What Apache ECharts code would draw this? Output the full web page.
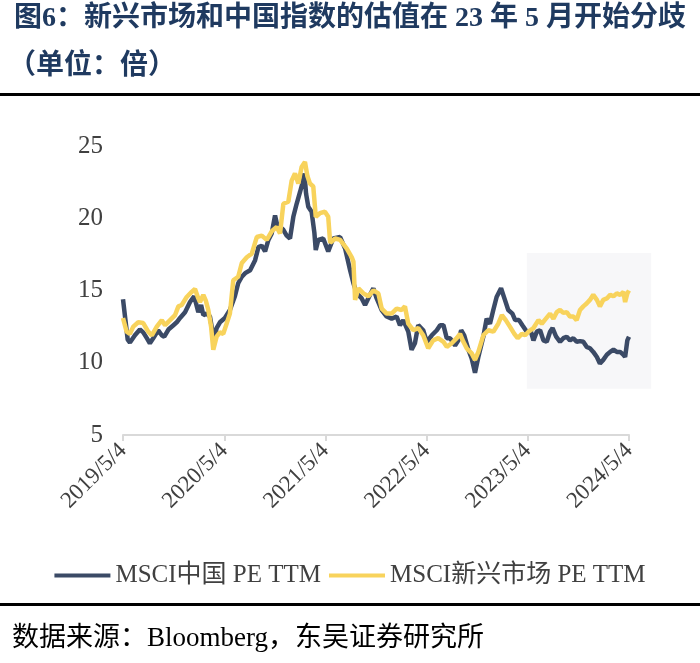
<!DOCTYPE html>
<html>
<head>
<meta charset="utf-8">
<script src="https://cdn.jsdelivr.net/npm/echarts@6/dist/echarts.min.js"></script>
<style>
html,body{margin:0;padding:0;background:#fff;}
#chart{width:700px;height:663px;}
</style>
</head>
<body>
<div id="chart"></div>
<script>
var titleLine1 = '图6：新兴市场和中国指数的估值在 23 年 5 月开始分歧';
var titleLine2 = '（单位：倍）';
var sourceText = '数据来源：Bloomberg，东吴证券研究所';
var seriesNames = ['MSCI中国 PE TTM', 'MSCI新兴市场 PE TTM'];
var xTickLabels = ['2019/5/4', '2020/5/4', '2021/5/4', '2022/5/4', '2023/5/4', '2024/5/4'];
var yTicks = [5, 10, 15, 20, 25];
var highlightRange = { from: '2023-05-01', to: '2024-07-23', low: 8.2, high: 17.6 };

var chinaPE = [
['2019-05-04',14.4],['2019-05-21',11.6],['2019-05-29',11.4],['2019-06-16',11.9],['2019-07-04',12.3],
['2019-07-16',12.1],['2019-07-29',11.7],['2019-08-09',11.35],['2019-08-21',11.7],['2019-09-08',12.25],
['2019-09-21',11.9],['2019-09-30',11.8],['2019-10-15',12.3],['2019-11-02',12.6],['2019-11-14',12.8],
['2019-11-26',13.1],['2019-12-14',13.5],['2020-01-01',14.2],['2020-01-16',14.6],['2020-01-31',13.5],
['2020-02-10',14.0],['2020-02-18',13.3],['2020-03-01',13.4],['2020-03-13',13.2],['2020-03-21',12.3],
['2020-03-28',11.6],['2020-04-06',12.4],['2020-04-18',12.8],['2020-05-06',13.1],['2020-05-24',13.65],
['2020-06-11',14.6],['2020-06-23',15.5],['2020-07-06',15.95],['2020-07-18',16.2],['2020-08-05',16.4],
['2020-08-23',17.1],['2020-09-04',18.0],['2020-09-16',18.1],['2020-09-28',17.7],['2020-10-10',18.5],
['2020-10-22',18.95],['2020-11-03',20.2],['2020-11-11',19.5],['2020-11-21',19.4],['2020-12-03',19.2],
['2020-12-15',18.8],['2020-12-27',18.6],['2021-01-08',20.1],['2021-01-20',21.0],['2021-02-01',21.8],
['2021-02-11',22.5],['2021-02-17',23.1],['2021-02-23',21.7],['2021-03-03',20.8],['2021-03-15',20.45],
['2021-03-25',19.0],['2021-03-30',17.8],['2021-04-08',18.5],['2021-04-26',18.6],['2021-05-14',17.7],
['2021-06-01',18.6],['2021-06-26',18.7],['2021-07-14',17.9],['2021-08-01',16.4],['2021-08-13',15.5],
['2021-08-25',14.8],['2021-09-12',14.45],['2021-09-24',14.0],['2021-10-12',14.7],['2021-10-24',15.15],
['2021-11-05',14.45],['2021-11-23',13.65],['2021-12-11',13.2],['2021-12-29',13.05],['2022-01-16',13.2],
['2022-01-28',12.6],['2022-02-09',12.95],['2022-02-27',12.15],['2022-03-11',10.9],['2022-03-23',11.35],
['2022-04-04',12.6],['2022-04-22',12.25],['2022-05-05',11.45],['2022-05-23',11.9],['2022-06-10',12.25],
['2022-06-22',12.6],['2022-07-04',12.6],['2022-07-16',11.7],['2022-07-28',11.7],['2022-08-15',11.2],
['2022-08-27',11.55],['2022-09-06',12.25],['2022-09-17',11.9],['2022-10-02',10.9],['2022-10-14',10.3],
['2022-10-26',9.3],['2022-11-07',10.4],['2022-11-25',11.8],['2022-12-07',13.05],['2022-12-19',12.7],
['2022-12-31',13.65],['2023-01-12',14.55],['2023-01-28',15.15],['2023-02-11',14.35],['2023-02-23',13.65],
['2023-03-10',13.4],['2023-03-20',12.95],['2023-04-03',12.95],['2023-04-15',12.6],['2023-05-01',12.15],
['2023-05-16',12.15],['2023-05-25',11.55],['2023-06-06',12.15],['2023-06-18',12.25],['2023-06-30',11.55],
['2023-07-12',11.45],['2023-07-24',12.15],['2023-08-02',12.4],['2023-08-15',11.8],['2023-08-29',11.45],
['2023-09-10',11.7],['2023-09-22',11.8],['2023-10-04',11.55],['2023-10-16',11.7],['2023-10-28',11.45],
['2023-11-09',11.5],['2023-11-21',11.45],['2023-12-03',11.1],['2023-12-15',11.0],['2023-12-27',10.75],
['2024-01-09',10.4],['2024-01-20',9.95],['2024-02-01',10.2],['2024-02-14',10.55],['2024-02-26',10.75],
['2024-03-09',10.9],['2024-03-21',10.75],['2024-04-02',10.75],['2024-04-14',10.55],['2024-04-20',10.4],
['2024-04-28',11.55],['2024-05-04',11.8]
];

var emPE = [
['2019-05-04',13.1],['2019-05-17',12.15],['2019-05-29',12.0],['2019-06-10',12.5],['2019-06-28',12.8],
['2019-07-16',12.75],['2019-08-03',12.15],['2019-08-16',11.9],['2019-09-03',12.5],['2019-09-21',12.95],
['2019-10-03',12.6],['2019-10-21',12.95],['2019-11-08',13.3],['2019-11-20',13.9],['2019-12-02',14.0],
['2019-12-20',14.55],['2020-01-07',14.9],['2020-01-19',15.1],['2020-01-29',14.55],['2020-02-06',14.2],
['2020-02-18',14.7],['2020-02-27',14.3],['2020-03-07',13.65],['2020-03-17',12.5],['2020-03-25',10.9],
['2020-04-06',11.8],['2020-04-18',12.1],['2020-04-30',12.0],['2020-05-12',12.7],['2020-05-24',13.4],
['2020-06-05',15.7],['2020-06-23',15.95],['2020-07-06',16.9],['2020-07-24',17.3],['2020-08-11',17.55],
['2020-08-29',18.7],['2020-09-16',18.8],['2020-10-04',18.5],['2020-10-22',19.1],['2020-11-09',19.4],
['2020-11-21',18.95],['2020-12-03',21.0],['2020-12-21',21.15],['2021-01-02',22.6],['2021-01-14',23.1],
['2021-01-26',22.4],['2021-02-07',23.55],['2021-02-19',23.9],['2021-02-28',22.9],['2021-03-09',22.4],
['2021-03-21',22.2],['2021-03-30',20.1],['2021-04-14',20.35],['2021-05-02',20.45],['2021-05-14',20.1],
['2021-05-21',18.3],['2021-06-08',18.6],['2021-06-26',18.5],['2021-07-20',17.9],['2021-08-07',17.3],
['2021-08-13',17.0],['2021-08-19',14.35],['2021-08-31',15.15],['2021-09-18',14.8],['2021-10-06',14.6],
['2021-10-24',15.0],['2021-11-11',14.8],['2021-11-23',13.75],['2021-12-11',13.4],['2021-12-29',13.4],
['2022-01-16',13.75],['2022-02-03',13.65],['2022-02-15',13.9],['2022-02-27',12.7],['2022-03-17',12.25],
['2022-04-04',12.4],['2022-04-22',11.9],['2022-05-10',11.0],['2022-05-28',11.55],['2022-06-15',11.7],
['2022-07-04',11.45],['2022-07-16',11.1],['2022-08-03',11.35],['2022-08-21',11.7],['2022-09-02',12.0],
['2022-09-14',11.45],['2022-09-26',11.0],['2022-10-14',10.65],['2022-10-26',10.2],['2022-11-07',10.75],
['2022-11-25',11.9],['2022-12-13',12.25],['2022-12-31',12.15],['2023-01-18',12.7],['2023-01-31',13.3],
['2023-02-14',12.95],['2023-03-01',12.5],['2023-03-17',12.0],['2023-03-29',11.7],['2023-04-13',12.0],
['2023-04-25',11.9],['2023-05-07',12.15],['2023-05-25',12.4],['2023-06-12',12.95],['2023-06-24',12.7],
['2023-07-09',13.05],['2023-07-24',13.4],['2023-08-05',13.05],['2023-08-17',13.5],['2023-08-29',13.65],
['2023-09-10',13.45],['2023-09-22',13.5],['2023-10-04',13.2],['2023-10-16',13.2],['2023-10-28',12.95],
['2023-11-09',13.65],['2023-11-21',13.9],['2023-12-03',14.1],['2023-12-15',14.35],['2023-12-27',14.7],
['2024-01-09',14.35],['2024-01-20',13.9],['2024-02-01',14.35],['2024-02-14',14.45],['2024-02-26',14.7],
['2024-03-09',14.6],['2024-03-21',14.8],['2024-04-02',14.7],['2024-04-14',14.9],['2024-04-20',14.2],
['2024-04-28',14.8],['2024-05-04',15.0]
];

function toTs(s) {
  var p = s.split(/[\/-]/);
  return new Date(+p[0], +p[1] - 1, +p[2]).getTime();
}
function toPoints(arr) {
  return arr.map(function (d) { return [toTs(d[0]), d[1]]; });
}
var xTickValues = xTickLabels.map(toTs);
function fmtDate(v) {
  var d = new Date(v);
  return d.getFullYear() + '/' + (d.getMonth() + 1) + '/' + d.getDate();
}

var W = 700;
var gridLeft = 123, gridRight = 71, gridTop = 146, gridBottom = 228;
var xMin = xTickValues[0], xMax = xTickValues[xTickValues.length - 1];
var plotW = W - gridLeft - gridRight;
// overlay grid sharing the same time scale but extending to the end of the highlight box
var boxEnd = toTs(highlightRange.to);
var grid2Right = W - gridLeft - plotW * (boxEnd - xMin) / (xMax - xMin);

var serifFont = '"Liberation Serif", "Times New Roman", "Noto Sans CJK SC", serif';
var cjkFont = '"Liberation Serif", "Noto Sans CJK SC", serif';

var chart = echarts.init(document.getElementById('chart'), null, { renderer: 'canvas' });
chart.setOption({
  animation: false,
  backgroundColor: '#ffffff',
  grid: [
    { left: gridLeft, right: gridRight, top: gridTop, bottom: gridBottom, containLabel: false, z: 2 },
    { left: gridLeft, right: grid2Right, top: gridTop, bottom: gridBottom, containLabel: false, z: 0 }
  ],
  xAxis: [{
    type: 'value',
    gridIndex: 0,
    min: xMin,
    max: xMax,
    axisLine: { show: true, lineStyle: { color: '#d9d9d9', width: 2 } },
    axisTick: { show: true, customValues: xTickValues, length: 6, lineStyle: { color: '#d9d9d9', width: 2 } },
    axisLabel: {
      customValues: xTickValues,
      rotate: 45,
      margin: 12,
      fontSize: 23,
      fontFamily: serifFont,
      color: '#404040',
      formatter: fmtDate
    },
    splitLine: { show: false }
  }, {
    type: 'value',
    gridIndex: 1,
    min: xMin,
    max: boxEnd,
    show: false
  }],
  yAxis: [{
    type: 'value',
    gridIndex: 0,
    min: yTicks[0],
    max: yTicks[yTicks.length - 1],
    interval: 5,
    axisLine: { show: false },
    axisTick: { show: false },
    splitLine: { show: false },
    axisLabel: { fontSize: 25, fontFamily: serifFont, color: '#404040', margin: 20 }
  }, {
    type: 'value',
    gridIndex: 1,
    min: yTicks[0],
    max: yTicks[yTicks.length - 1],
    show: false
  }],
  legend: {
    top: 558,
    left: 'center',
    icon: 'rect',
    itemWidth: 56,
    itemHeight: 4,
    itemGap: 8,
    textStyle: { fontSize: 25, fontFamily: cjkFont, color: '#404040' },
    data: seriesNames
  },
  series: [
    {
      name: 'highlight',
      type: 'line',
      xAxisIndex: 1,
      yAxisIndex: 1,
      data: [],
      silent: true,
      z: 0,
      markArea: {
        silent: true,
        itemStyle: { color: '#f7f7f9' },
        data: [[
          { xAxis: toTs(highlightRange.from), yAxis: highlightRange.high },
          { xAxis: boxEnd, yAxis: highlightRange.low }
        ]]
      }
    },
    {
      name: seriesNames[0],
      type: 'line',
      data: toPoints(chinaPE),
      showSymbol: false,
      symbol: 'none',
      z: 2,
      lineStyle: { color: '#3b4a66', width: 4.5 },
      itemStyle: { color: '#3b4a66' }
    },
    {
      name: seriesNames[1],
      type: 'line',
      data: toPoints(emPE),
      showSymbol: false,
      symbol: 'none',
      z: 3,
      lineStyle: { color: '#f8d35c', width: 4.5 },
      itemStyle: { color: '#f8d35c' }
    }
  ],
  graphic: [
    { type: 'text', left: 14, top: 5, style: { text: titleLine1, font: 'bold 28px ' + cjkFont, fill: '#1f3a60' } },
    { type: 'text', left: 8, top: 53, style: { text: titleLine2, font: 'bold 28px ' + cjkFont, fill: '#1f3a60' } },
    { type: 'rect', shape: { x: 0, y: 93, width: 700, height: 3 }, style: { fill: '#000' } },
    { type: 'rect', shape: { x: 0, y: 603, width: 700, height: 3 }, style: { fill: '#000' } },
    { type: 'text', left: 12, top: 625, style: { text: sourceText, font: '27px ' + cjkFont, fill: '#000' } }
  ]
});
</script>
</body>
</html>
